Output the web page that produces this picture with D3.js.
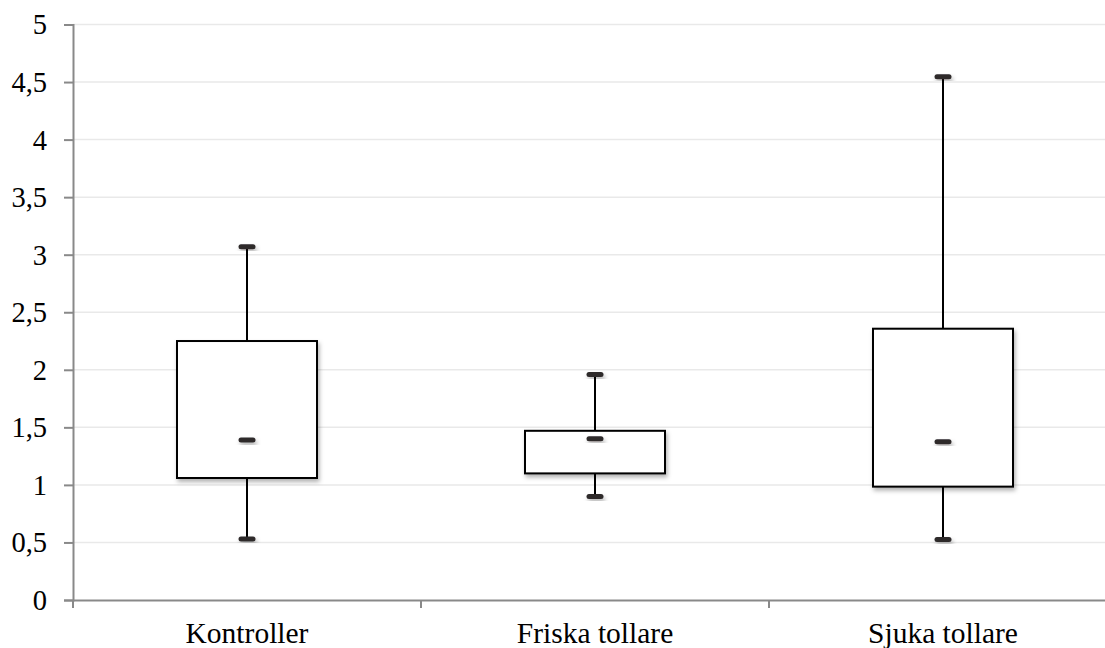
<!DOCTYPE html>
<html><head><meta charset="utf-8">
<script src="https://cdn.jsdelivr.net/npm/d3@7"></script>
<style>html,body{margin:0;padding:0;background:#fff;}svg{display:block;}</style>
</head><body>
<script>
const categories = ["Kontroller", "Friska tollare", "Sjuka tollare"];
const minValues = [0.53, 0.90, 0.525];
const q1Values = [1.06, 1.10, 0.985];
const medianValues = [1.39, 1.40, 1.375];
const q3Values = [2.25, 1.47, 2.357];
const maxValues = [3.07, 1.96, 4.547];
const yTicks = [0, 0.5, 1, 1.5, 2, 2.5, 3, 3.5, 4, 4.5, 5];

const W = 1105, H = 648;
const svg = d3.select("body").append("svg").attr("width", W).attr("height", H);
const defs = svg.append("defs");
const f = defs.append("filter").attr("id", "sh").attr("x", "-20%").attr("y", "-20%").attr("width", "150%").attr("height", "150%");
f.append("feDropShadow").attr("dx", 1.5).attr("dy", 3).attr("stdDeviation", 2).attr("flood-color", "#000").attr("flood-opacity", 0.3);

const x0 = 73, bandW = 348;
const x = d3.scaleBand().domain(categories).range([x0, x0 + bandW * 3]).padding(0);
const y = d3.scaleLinear().domain([0, 5]).range([600, 24.5]);
const font = "'Liberation Serif','Times New Roman',serif";

// grid
svg.append("g").selectAll("line").data(yTicks.filter(d => d > 0)).join("line")
  .attr("x1", x0).attr("x2", W).attr("y1", d => y(d)).attr("y2", d => y(d))
  .attr("stroke", "#e9e9e9").attr("stroke-width", 1.5);

// y axis
const yAxis = svg.append("g").attr("transform", `translate(${x0},0)`)
  .call(d3.axisLeft(y).tickValues(yTicks).tickSize(9).tickPadding(17)
    .tickFormat(d => String(d).replace(".", ",")));
yAxis.select(".domain").attr("stroke", "#898989").attr("stroke-width", 2);
yAxis.selectAll(".tick line").attr("stroke", "#898989").attr("stroke-width", 2);
yAxis.selectAll("text").attr("font-family", font).attr("font-size", 28.5).attr("fill", "#000").attr("dy", "0.33em");

// x axis
const xAxis = svg.append("g").attr("transform", `translate(0,${y(0)})`)
  .call(d3.axisBottom(x).tickSize(0).tickPadding(22));
xAxis.select(".domain").attr("stroke", "#898989").attr("stroke-width", 2);
xAxis.selectAll("text").attr("font-family", font).attr("font-size", 29.5).attr("fill", "#000").attr("dy", "0.71em");
svg.append("g").selectAll("line").data(d3.range(categories.length + 1)).join("line")
  .attr("x1", i => x0 + i * x.bandwidth()).attr("x2", i => x0 + i * x.bandwidth())
  .attr("y1", y(0)).attr("y2", y(0) + 8).attr("stroke", "#898989").attr("stroke-width", 2);

// boxes
const data = categories.map((c, i) => ({c, min: minValues[i], q1: q1Values[i], med: medianValues[i], q3: q3Values[i], max: maxValues[i]}));
const boxW = 140, capW = 17, capH = 5;
const g = svg.append("g").selectAll("g").data(data).join("g")
  .attr("transform", d => `translate(${x(d.c) + x.bandwidth() / 2},0)`);
g.append("line").attr("x1", 0).attr("x2", 0).attr("y1", d => y(d.max)).attr("y2", d => y(d.min))
  .attr("stroke", "#000").attr("stroke-width", 2);
g.append("rect").attr("x", -boxW / 2).attr("width", boxW)
  .attr("y", d => y(d.q3)).attr("height", d => y(d.q1) - y(d.q3))
  .attr("fill", "#fff").attr("stroke", "#000").attr("stroke-width", 2).attr("filter", "url(#sh)");
["max", "med", "min"].forEach(k => {
  g.append("rect").attr("x", -capW / 2).attr("width", capW).attr("y", d => y(d[k]) - capH / 2).attr("height", capH)
    .attr("rx", 2.5).attr("fill", "#2e2a2b").attr("filter", "url(#sh)");
});
</script>
</body></html>
